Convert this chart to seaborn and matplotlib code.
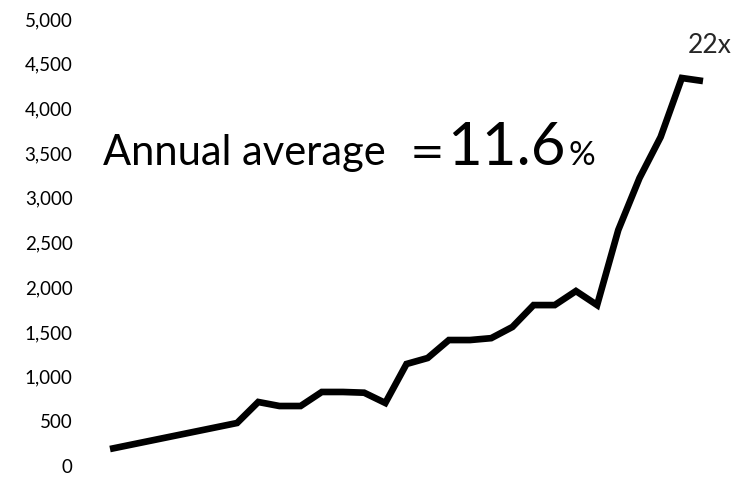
import matplotlib
matplotlib.use("Agg")
import matplotlib.pyplot as plt
import seaborn as sns
import pandas as pd
from matplotlib.ticker import FuncFormatter

# Index level by year offset (year 0 = base year); years 1-5 not reported
years = [0, 6, 7, 8, 9, 10, 11, 12, 13, 14, 15, 16, 17, 18, 19, 20,
         21, 22, 23, 24, 25, 26, 27, 28]
values = [190, 481, 716, 671, 671, 828, 828, 820, 705, 1141, 1208, 1409,
          1409, 1430, 1555, 1800, 1800, 1957, 1800, 2640, 3220, 3680,
          4340, 4306]
y_ticks = [0, 500, 1000, 1500, 2000, 2500, 3000, 3500, 4000, 4500, 5000]

headline = "Annual average"
avg_rate = "11.6"
multiple = "22x"

df = pd.DataFrame({"year": years, "value": values})

sns.set_style("white")
plt.rcParams["font.family"] = ["Lato", "DejaVu Sans"]

W, H = 735, 478
fig = plt.figure(figsize=(W / 100, H / 100), dpi=100)
ax = fig.add_axes([110 / W, (H - 466) / H, (703 - 110) / W, (466 - 19) / H])

sns.lineplot(data=df, x="year", y="value", ax=ax, color="black",
             linewidth=4.8, clip_on=False)
ax.lines[0].set_solid_capstyle("butt")
ax.lines[0].set_solid_joinstyle("miter")

ax.set_xlim(0, 28)
ax.set_ylim(0, 5000)
ax.set_yticks(y_ticks)
ax.yaxis.set_major_formatter(FuncFormatter(lambda v, _: f"{int(v):,}"))
ax.set_xticks([])
ax.set_xlabel("")
ax.set_ylabel("")
ax.tick_params(axis="y", length=0, pad=27, labelsize=13.5, labelcolor="black")
for s in ax.spines.values():
    s.set_visible(False)

# Headline "Annual average = 11.6%", pieces laid out left to right
renderer = fig.canvas.get_renderer()
base_y = (H - 165) / H
pieces = [(headline, 30, ["Lato"], 0), ("=", 30, ["DejaVu Sans"], 24),
          (avg_rate, 43, ["Lato"], 3), ("%", 24, ["Lato"], 2)]
x_px = 103
for text, size, family, gap in pieces:
    x_px += gap
    t = fig.text(x_px / W, base_y, text, fontsize=size, family=family,
                 va="baseline", ha="left", color="black")
    x_px = t.get_window_extent(renderer).x1

# Growth multiple over the final point
ax.annotate(multiple, xy=(years[-1], values[-1]), xytext=(7, 28),
            textcoords="offset pixels", ha="center", va="baseline",
            fontsize=19, annotation_clip=False)

fig.savefig("out.png", dpi=100, facecolor="white")
